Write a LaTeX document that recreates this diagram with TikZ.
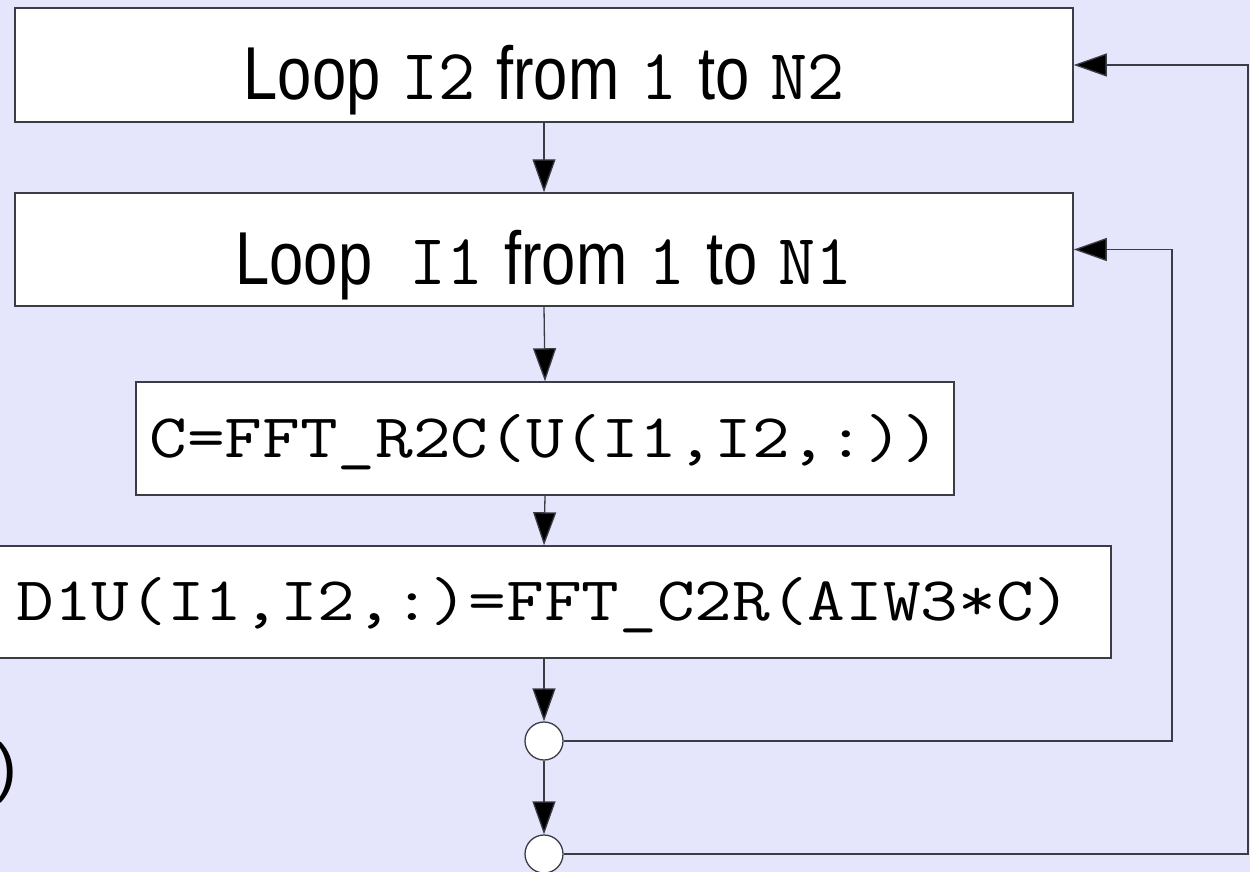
\documentclass[tikz,border=0pt]{standalone}
\usepackage{fontspec}
\setmainfont{Liberation Sans}
\usetikzlibrary{arrows.meta}

\definecolor{bgcol}{RGB}{229,229,252}
\definecolor{linecol}{RGB}{60,60,70}

% narrowed sans words and widened light typewriter code
\newcommand{\nw}[1]{\scalebox{0.82}[1]{#1}}
\newcommand{\lpvar}[1]{{\fontsize{72}{80}\fontseries{l}\selectfont\ttfamily #1}}
\newcommand{\codetext}[1]{\scalebox{1.18}[1]{\fontsize{62}{70}\fontseries{l}\selectfont\ttfamily #1}}

\tikzset{
  stepbox/.style={draw=linecol, line width=1.5pt, fill=white, rectangle,
    inner sep=0pt, text depth=0pt},
  loopbox/.style={stepbox, minimum width=1058pt, text height=70pt,
    font=\fontsize{75}{80}\selectfont},
  joint/.style={circle, draw=linecol, line width=1.3pt, fill=white,
    minimum size=38pt, inner sep=0pt},
  flow/.style={draw=linecol, line width=1.3pt,
    -{Triangle[length=33pt,width=23pt,fill=black]}},
}

\begin{document}
\begin{tikzpicture}[x=1pt,y=-1pt]
  \useasboundingbox (0,0) rectangle (1250,872);
  \fill[bgcol] (0,0) rectangle (1250,872);
  \clip (0,0) rectangle (1250,872);

  % outer and inner loop headers
  \node[loopbox, minimum height=114pt] (outer) at (544,65)
    {\nw{Loop} \lpvar{I2} \nw{from} \lpvar{1} \nw{to} \lpvar{N2}};
  \node[loopbox, minimum height=113pt] (inner) at (544,249.5)
    {\nw{Loop}\hspace{37pt}\lpvar{I1} \nw{from} \lpvar{1} \nw{to} \lpvar{N1}};

  % loop body
  \node[stepbox, minimum width=818pt, minimum height=113pt, text height=37pt]
    (fwd) at (545,438.5) {\codetext{C=FFT\_R2C(U(I1,I2,:))}};
  \node[stepbox, minimum width=1134pt, minimum height=112pt, text height=37pt]
    (bwd) at (544,602) {\codetext{D1U(I1,I2,:)=FFT\_C2R(AIW3*C)}};

  % loop ends
  \node[joint] (endinner) at (544,741) {};
  \node[joint] (endouter) at (544,854) {};

  \node[anchor=base east, inner sep=0pt, font=\fontsize{65}{70}\selectfont]
    (paren) at (17,789) {)};

  % forward flow
  \draw[flow] (outer.south) -- (inner.north);
  \draw[flow] (inner.south) -- (fwd.north);
  \draw[flow] (fwd.south) -- (bwd.north);
  \draw[flow] (bwd.south) -- (endinner.north);
  \draw[flow] (endinner.south) -- (endouter.north);

  % return paths
  \coordinate (backinner) at (1172,741);
  \coordinate (backouter) at (1248,854);
  \draw[flow] (endinner.east) -- (backinner) |- (inner.east);
  \draw[flow] (endouter.east) -- (backouter) |- (outer.east);
\end{tikzpicture}
\end{document}
